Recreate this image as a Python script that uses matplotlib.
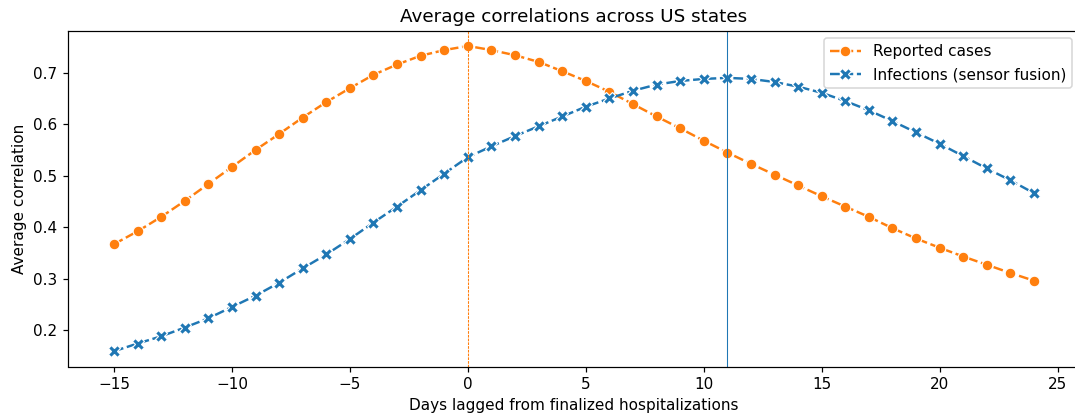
import matplotlib
matplotlib.use("Agg")
import matplotlib.pyplot as plt
import numpy as np

lags = list(range(-15, 25))
reported_cases = [0.367, 0.392, 0.420, 0.451, 0.484, 0.517, 0.550, 0.581, 0.613, 0.643,
                  0.670, 0.696, 0.716, 0.733, 0.744, 0.752, 0.744, 0.734, 0.721, 0.703,
                  0.684, 0.663, 0.639, 0.615, 0.592, 0.568, 0.545, 0.523, 0.502, 0.481,
                  0.460, 0.440, 0.420, 0.398, 0.378, 0.360, 0.343, 0.327, 0.311, 0.296]
infections = [0.159, 0.174, 0.188, 0.205, 0.223, 0.245, 0.267, 0.292, 0.320, 0.347,
              0.377, 0.409, 0.440, 0.472, 0.504, 0.536, 0.557, 0.577, 0.596, 0.615,
              0.634, 0.650, 0.665, 0.677, 0.684, 0.688, 0.690, 0.688, 0.682, 0.673,
              0.661, 0.645, 0.627, 0.606, 0.584, 0.562, 0.538, 0.514, 0.491, 0.466]
series_labels = ["Reported cases", "Infections (sensor fusion)"]
title = "Average correlations across US states"
xlabel = "Days lagged from finalized hospitalizations"
ylabel = "Average correlation"
peak_cases_lag = 0
peak_inf_lag = 11

DPI = 110
fig = plt.figure(figsize=(1075/DPI, 417/DPI), dpi=DPI)
ax = fig.add_axes([68/1075, 1-366.5/417, (1080-68)/1075, (366.5-30.7)/417])

dash = (0, (4, 1.5))
ax.plot(lags, reported_cases, color="#ff7f0e", linestyle=dash, lw=1.6, marker="o",
        markersize=7, markeredgecolor="white", markeredgewidth=0.75, label=series_labels[0])
ax.plot(lags, infections, color="#1f77b4", linestyle=dash, lw=1.6, marker="X",
        markersize=7.5, markeredgecolor="white", markeredgewidth=0.75, label=series_labels[1])
ax.axvline(peak_cases_lag, color="#ff7f0e", linestyle=(0, (2.5, 1)), lw=0.7)
ax.axvline(peak_inf_lag, color="#1f77b4", lw=0.7)

ax.set_title(title, fontsize=12)
ax.set_xlabel(xlabel, fontsize=10)
ax.set_ylabel(ylabel, fontsize=10)
ax.legend(loc="upper right", fontsize=10)

fig.savefig("out.png", dpi=DPI)
